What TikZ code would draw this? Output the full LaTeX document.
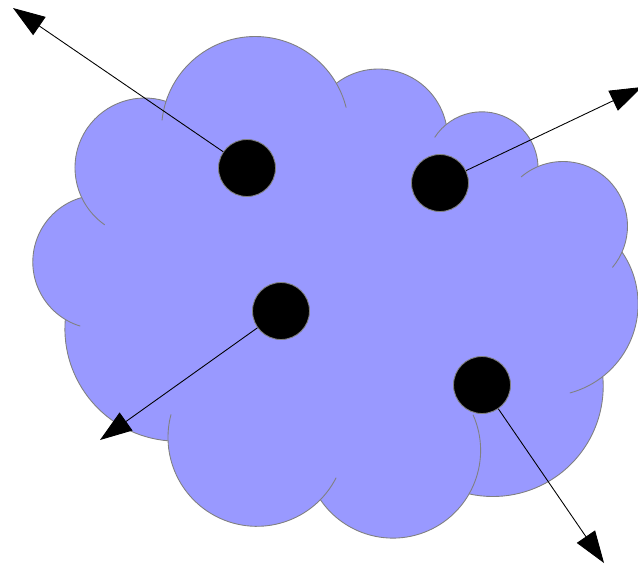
\documentclass[tikz,border=0pt]{standalone}
\usepackage{tikz}
\usetikzlibrary{arrows.meta}
\definecolor{cloudblue}{RGB}{153,153,255}
\definecolor{edgegray}{RGB}{128,128,128}

\begin{document}
\begin{tikzpicture}[
  x=0.02cm, y=-0.02cm,
  lobe/.style={draw=edgegray,line width=0.5pt},
  dot/.style={circle,fill=black,draw=edgegray,line width=0.5pt,minimum size=1.14cm,inner sep=0pt},
  ray/.style={-{Triangle[length=0.64cm,width=0.44cm]},line width=0.5pt,draw=black}
]
  \useasboundingbox (0,0) rectangle (638,566);

  % cloud body, lobe to lobe
  \fill[cloudblue] (166.0,101.4)
    foreach \cx/\cy/\r/\a/\b in {255.2/130.2/93.7/197.9/329.9, 378.4/138.2/69.2/232.6/348.6,
      481.8/168/56.2/230.7/358.6, 563/226/64.5/247.1/383.8, 546/304/92.1/325.6/412,
      492.9/386.2/110.3/355/462.5, 392.9/450.4/87.7/29.8/145.7, 256.9/437.4/88.9/44.5/177.8,
      177.5/328.6/112.6/94.8/184.7, 99.8/262/67/121.2/254.3, 144.7/167.7/69.7/154.7/287.8}
      { -- ([shift={(\cx,\cy)}]\a:\r) arc[start angle=\a, end angle=\b, radius=\r] } -- cycle;

  % lobe edges, some running on into the next lobe
  \foreach \cx/\cy/\r/\a/\b in {255.2/130.2/93.7/186/346, 378.4/138.2/69.2/232.6/348.6,
      481.8/168/56.2/213/358.6, 563/226/64.5/229.5/400, 546/304/92.1/325.6/435,
      492.9/386.2/110.3/355/462.5, 392.9/450.4/87.7/-24/145.7, 256.9/437.4/88.9/27/195,
      177.5/328.6/112.6/94.8/184.7, 99.8/262/67/107/254.3, 144.7/167.7/69.7/125/287.8}
    \draw[lobe] ([shift={(\cx,\cy)}]\a:\r) arc[start angle=\a, end angle=\b, radius=\r];

  \node[dot] (d1) at (247,168) {};
  \node[dot] (d2) at (440,183) {};
  \node[dot] (d3) at (281,311) {};
  \node[dot] (d4) at (482,385) {};

  \coordinate (t1) at (13,8);
  \coordinate (t2) at (642,87);
  \coordinate (t3) at (100,440);
  \coordinate (t4) at (604,563);

  \draw[ray] (d1) -- (t1);
  \draw[ray] (d2) -- (t2);
  \draw[ray] (d3) -- (t3);
  \draw[ray] (d4) -- (t4);
\end{tikzpicture}
\end{document}
